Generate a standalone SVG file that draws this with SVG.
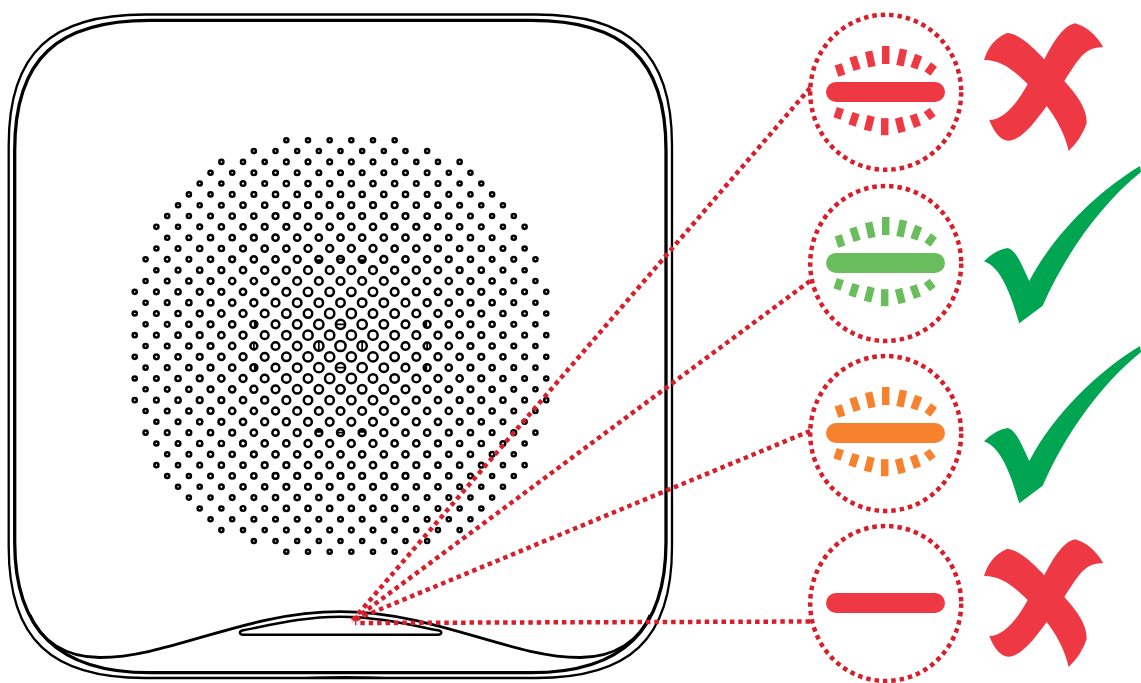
<svg xmlns="http://www.w3.org/2000/svg" width="1141" height="683" viewBox="0 0 1141 683">
<style>
.o{fill:none;stroke:#000;stroke-linejoin:round}
.d circle{fill:none;stroke:#000;stroke-width:.23}
.c0 circle{r:.47}.c1 circle{r:.43}.c2 circle{r:.39}.c3 circle{r:.355}.c4 circle{r:.32}.c5 circle{r:.29}.c6 circle{r:.265}.c7 circle{r:.24}.c8 circle{r:.215}.c9 circle{r:.19}
.bar{stroke:#000;stroke-width:.16;fill:none}
.ring{fill:none;stroke:#d71f2c;stroke-width:4.5;stroke-dasharray:4.5 3.95}
.link{fill:none;stroke:#d71f2c;stroke-width:4.5;stroke-dasharray:4.5 3.9}
.red{fill:#ee3843}.green{fill:#6abd5c}.orange{fill:#f6822d}.ok{fill:#00a551}
</style>
<defs>
<g id="q" class="d">
<g class="c1"><circle cx="1" cy="1"/><circle cx="3" cy="1"/><circle cx="2" cy="2"/><circle cx="1" cy="3"/></g>
<g class="c2"><circle cx="5" cy="1"/><circle cx="4" cy="2"/><circle cx="3" cy="3"/><circle cx="5" cy="3"/><circle cx="2" cy="4"/><circle cx="4" cy="4"/><circle cx="1" cy="5"/><circle cx="3" cy="5"/></g>
<g class="c3"><circle cx="7" cy="1"/><circle cx="6" cy="2"/><circle cx="7" cy="3"/><circle cx="6" cy="4"/><circle cx="5" cy="5"/><circle cx="2" cy="6"/><circle cx="4" cy="6"/><circle cx="1" cy="7"/><circle cx="3" cy="7"/></g>
<g class="c4"><circle cx="9" cy="1"/><circle cx="8" cy="2"/><circle cx="9" cy="3"/><circle cx="8" cy="4"/><circle cx="7" cy="5"/><circle cx="6" cy="6"/><circle cx="5" cy="7"/><circle cx="7" cy="7"/><circle cx="2" cy="8"/><circle cx="4" cy="8"/><circle cx="1" cy="9"/><circle cx="3" cy="9"/></g>
<g class="c5"><circle cx="11" cy="1"/><circle cx="10" cy="2"/><circle cx="11" cy="3"/><circle cx="10" cy="4"/><circle cx="9" cy="5"/><circle cx="8" cy="6"/><circle cx="10" cy="6"/><circle cx="9" cy="7"/><circle cx="6" cy="8"/><circle cx="8" cy="8"/><circle cx="5" cy="9"/><circle cx="7" cy="9"/><circle cx="2" cy="10"/><circle cx="4" cy="10"/><circle cx="6" cy="10"/><circle cx="1" cy="11"/><circle cx="3" cy="11"/></g>
<g class="c6"><circle cx="13" cy="1"/><circle cx="12" cy="2"/><circle cx="13" cy="3"/><circle cx="12" cy="4"/><circle cx="11" cy="5"/><circle cx="13" cy="5"/><circle cx="12" cy="6"/><circle cx="11" cy="7"/><circle cx="10" cy="8"/><circle cx="9" cy="9"/><circle cx="8" cy="10"/><circle cx="5" cy="11"/><circle cx="7" cy="11"/><circle cx="2" cy="12"/><circle cx="4" cy="12"/><circle cx="6" cy="12"/><circle cx="1" cy="13"/><circle cx="3" cy="13"/><circle cx="5" cy="13"/></g>
<g class="c7"><circle cx="15" cy="1"/><circle cx="14" cy="2"/><circle cx="15" cy="3"/><circle cx="14" cy="4"/><circle cx="15" cy="5"/><circle cx="14" cy="6"/><circle cx="13" cy="7"/><circle cx="12" cy="8"/><circle cx="11" cy="9"/><circle cx="13" cy="9"/><circle cx="10" cy="10"/><circle cx="12" cy="10"/><circle cx="9" cy="11"/><circle cx="11" cy="11"/><circle cx="8" cy="12"/><circle cx="10" cy="12"/><circle cx="7" cy="13"/><circle cx="9" cy="13"/><circle cx="2" cy="14"/><circle cx="4" cy="14"/><circle cx="6" cy="14"/><circle cx="1" cy="15"/><circle cx="3" cy="15"/><circle cx="5" cy="15"/></g>
<g class="c8"><circle cx="17" cy="1"/><circle cx="16" cy="2"/><circle cx="17" cy="3"/><circle cx="16" cy="4"/><circle cx="17" cy="5"/><circle cx="16" cy="6"/><circle cx="15" cy="7"/><circle cx="14" cy="8"/><circle cx="16" cy="8"/><circle cx="15" cy="9"/><circle cx="14" cy="10"/><circle cx="13" cy="11"/><circle cx="12" cy="12"/><circle cx="11" cy="13"/><circle cx="8" cy="14"/><circle cx="10" cy="14"/><circle cx="7" cy="15"/><circle cx="9" cy="15"/><circle cx="2" cy="16"/><circle cx="4" cy="16"/><circle cx="6" cy="16"/><circle cx="8" cy="16"/><circle cx="1" cy="17"/><circle cx="3" cy="17"/><circle cx="5" cy="17"/></g>
<g class="c9"><circle cx="19" cy="1"/><circle cx="18" cy="2"/><circle cx="19" cy="3"/><circle cx="18" cy="4"/><circle cx="19" cy="5"/><circle cx="18" cy="6"/><circle cx="17" cy="7"/><circle cx="18" cy="8"/><circle cx="17" cy="9"/><circle cx="16" cy="10"/><circle cx="15" cy="11"/><circle cx="17" cy="11"/><circle cx="14" cy="12"/><circle cx="16" cy="12"/><circle cx="13" cy="13"/><circle cx="15" cy="13"/><circle cx="12" cy="14"/><circle cx="14" cy="14"/><circle cx="11" cy="15"/><circle cx="13" cy="15"/><circle cx="10" cy="16"/><circle cx="12" cy="16"/><circle cx="7" cy="17"/><circle cx="9" cy="17"/><circle cx="11" cy="17"/><circle cx="2" cy="18"/><circle cx="4" cy="18"/><circle cx="6" cy="18"/><circle cx="8" cy="18"/><circle cx="1" cy="19"/><circle cx="3" cy="19"/><circle cx="5" cy="19"/></g>
<path d="M1.68 8A.32 .32 0 0 1 2.32 8ZM8 1.68A.32 .32 0 0 0 8 2.32Z"/>
</g>
<g id="ah" class="d">
<g class="c1"><circle cx="2" cy="0"/></g><g class="c2"><circle cx="4" cy="0"/></g><g class="c3"><circle cx="6" cy="0"/></g><g class="c4"><circle cx="8" cy="0"/></g><g class="c5"><circle cx="10" cy="0"/></g><g class="c6"><circle cx="12" cy="0"/></g><g class="c7"><circle cx="14" cy="0"/></g><g class="c8"><circle cx="16" cy="0"/></g><g class="c9"><circle cx="18" cy="0"/></g>
<path class="bar" d="M2 -.43V.43M8 -.32V.32"/>
</g>
<g id="av" class="d">
<g class="c1"><circle cx="0" cy="2"/></g><g class="c2"><circle cx="0" cy="4"/></g><g class="c3"><circle cx="0" cy="6"/></g><g class="c4"><circle cx="0" cy="8"/></g><g class="c5"><circle cx="0" cy="10"/></g><g class="c6"><circle cx="0" cy="12"/></g><g class="c7"><circle cx="0" cy="14"/></g><g class="c8"><circle cx="0" cy="16"/></g><g class="c9"><circle cx="0" cy="18"/></g>
<path class="bar" d="M-.43 2H.43M-.32 8H.32"/>
</g>
<g id="rays">
<rect x="-3.75" y="-9" width="7.5" height="18" transform="translate(885.7 55)"/>
<rect x="-3.75" y="-8.5" width="7.5" height="17" transform="translate(901.7 57.5) rotate(12)"/>
<rect x="-3.75" y="-7" width="7.5" height="14" transform="translate(916.3 61.7) rotate(20)"/>
<rect x="-3.75" y="-5.5" width="7.5" height="11" transform="translate(930.7 69) rotate(36)"/>
<rect x="-3.75" y="-8" width="7.5" height="16" transform="translate(870.3 59) rotate(-12)"/>
<rect x="-3.75" y="-7" width="7.5" height="14" transform="translate(855 63.3) rotate(-18)"/>
<rect x="-3.75" y="-6" width="7.5" height="12" transform="translate(840 70) rotate(-18)"/>
<rect x="-3.75" y="-8.5" width="7.5" height="17" transform="translate(884.7 126.7)"/>
<rect x="-3.75" y="-7.5" width="7.5" height="15" transform="translate(900.3 125) rotate(-14)"/>
<rect x="-3.75" y="-6.5" width="7.5" height="13" transform="translate(915.3 120.7) rotate(-20)"/>
<rect x="-3.75" y="-5" width="7.5" height="10" transform="translate(929.7 114) rotate(-36)"/>
<rect x="-3.75" y="-7.5" width="7.5" height="15" transform="translate(869.3 123.3) rotate(14)"/>
<rect x="-3.75" y="-6.5" width="7.5" height="13" transform="translate(854 119.3) rotate(18)"/>
<rect x="-3.75" y="-5.5" width="7.5" height="11" transform="translate(838.7 113.3) rotate(18)"/>
</g>
<path id="cross" d="M984 60Q990 40 1007 33C1018 33 1034 48 1044.3 59.3C1052 45 1062 26 1075 23.3Q1092 28 1103.3 47.3C1085 46 1078 60 1064.3 81C1075 93 1087 107 1086.7 123Q1082 138 1068.7 151C1065 134 1056 118 1046.7 106C1035 122 1022 140 1008.3 140.7Q997 140 989.3 120C1002 120 1016 106 1027.7 84C1015 72 1003 60 984 60Z"/>
<path id="check" d="M984 261.3Q995 250 1007.7 248C1016 250 1022 265 1029.3 281C1055 232 1100 190 1140 166L1141 172C1100 205 1065 255 1042.7 305.7L1019.3 323.3C1012 300 1003 268 984 261.3Z"/>
</defs>
<rect width="1141" height="683" fill="#fff"/>
<g id="device">
<path class="o" stroke-width="2.3" d="M8.7 145C8.7 52 52 14.5 145 14.5H536C629 14.5 672 52 672 145V547C672 640 629 678 536 678H145C52 678 8.7 640 8.7 547Z"/>
<path class="o" stroke-width="3.3" d="M14.7 150C14.7 58 58 20.4 150 20.4H531C623 20.4 666 58 666 150V542C666 630 623 672.7 531 672.7H150C58 672.7 14.7 630 14.7 542Z"/>
<path d="M290 677.5Q345 674.5 400 677.5Q345 679.5 290 677.5Z"/>
<path class="o" stroke-width="2.8" d="M30 615C40 640 65 657.5 100 657.5C170 657.5 245 611.7 340 611.7C435 611.7 510 657.5 580 657.5C615 657.5 640 640 650 615"/>
<path class="o" stroke-width="2.5" d="M242 630.5C275 624 305 616.7 340.5 616.7C376 616.7 406 624 439 630.5Q442 631.5 441 633.5Q440.5 634.7 438 634.7H243Q240.5 634.7 240 633Q239.5 631.5 242 630.5Z"/>
</g>
<g id="speaker-dots" transform="translate(340.5 346) scale(10.83)">
<g class="d c0"><circle cx="0" cy="0"/></g>
<use href="#q"/><use href="#q" transform="scale(-1 1)"/><use href="#q" transform="scale(1 -1)"/><use href="#q" transform="scale(-1 -1)"/>
<use href="#ah"/><use href="#ah" transform="scale(-1 1)"/>
<use href="#av"/><use href="#av" transform="scale(1 -1)"/>
</g>
<g id="connectors">
<path class="link" d="M810 88L352 621"/>
<path class="link" d="M810 281L352 621"/>
<path class="link" d="M810 431L352 621"/>
<path class="link" d="M810 621.5L355 623"/>
</g>
<g id="state-red-blink">
<ellipse class="ring" cx="885.7" cy="92.3" rx="75.5" ry="77.5"/>
<use href="#rays" class="red"/>
<rect class="red" x="826" y="82" width="119" height="20" rx="10"/>
<use href="#cross" class="red"/>
</g>
<g id="state-green-blink">
<ellipse class="ring" cx="885.7" cy="263.5" rx="75.5" ry="77.5"/>
<use href="#rays" class="green" y="171"/>
<rect class="green" x="826" y="253" width="119" height="20" rx="10"/>
<use href="#check" class="ok"/>
</g>
<g id="state-orange-blink">
<ellipse class="ring" cx="885.7" cy="433.5" rx="75.5" ry="77.5"/>
<use href="#rays" class="orange" y="341"/>
<rect class="orange" x="826" y="423" width="119" height="20" rx="10"/>
<use href="#check" class="ok" y="180"/>
</g>
<g id="state-red-steady">
<ellipse class="ring" cx="885.7" cy="603.5" rx="75.5" ry="77.5"/>
<rect class="red" x="826" y="593" width="119" height="20" rx="10"/>
<use href="#cross" class="red" y="516"/>
</g>
</svg>
